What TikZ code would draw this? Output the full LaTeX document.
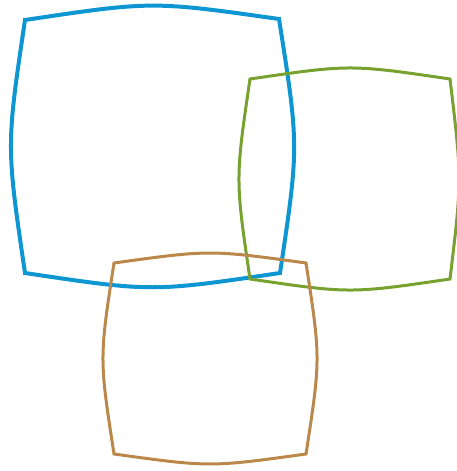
\documentclass[tikz,border=0pt]{standalone}
\definecolor{cblue}{RGB}{14,150,210}
\definecolor{cgreen}{RGB}{119,162,47}
\definecolor{cbrown}{RGB}{186,136,74}
\begin{document}
\begin{tikzpicture}[x=1pt,y=-1pt,
  sq/.style={line join=miter}]
\useasboundingbox (0,0) rectangle (457,471);
% blue
\coordinate (a1) at (25,20); \coordinate (a2) at (279,19);
\coordinate (a3) at (280,273); \coordinate (a4) at (25,273);
\draw[sq,cblue,line width=4] (a1) .. controls (152,1) .. (a2)
  .. controls (299,146) .. (a3) .. controls (152,292) .. (a4)
  .. controls (6.3,146) .. cycle;
% green
\coordinate (g1) at (250,79); \coordinate (g2) at (450,79);
\coordinate (g3) at (450,279); \coordinate (g4) at (250,279);
\draw[sq,cgreen,line width=3] (g1) .. controls (350,64.3) .. (g2)
  .. controls (462,179) .. (g3) .. controls (350,293.7) .. (g4)
  .. controls (235.3,179) .. cycle;
% brown
\coordinate (b1) at (114,263); \coordinate (b2) at (306,263);
\coordinate (b3) at (306,454); \coordinate (b4) at (114,454);
\draw[sq,cbrown,line width=3] (b1) .. controls (210,249.7) .. (b2)
  .. controls (320.7,358.5) .. (b3) .. controls (210,467.3) .. (b4)
  .. controls (99.3,358.5) .. cycle;
\end{tikzpicture}
\end{document}
